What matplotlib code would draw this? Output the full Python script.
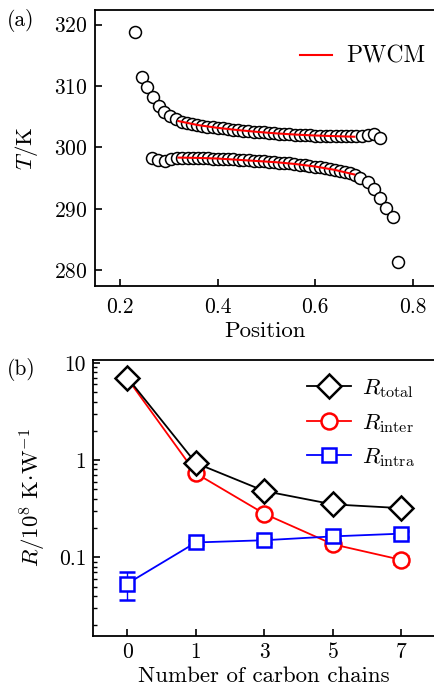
import numpy as np
import matplotlib
matplotlib.use("Agg")
import matplotlib.pyplot as plt
from matplotlib.ticker import LogLocator, NullFormatter

plt.rcParams['font.family'] = ['cmr10', 'DejaVu Serif']
plt.rcParams['mathtext.fontset'] = 'cm'
plt.rcParams['axes.unicode_minus'] = False
plt.rcParams['axes.formatter.use_mathtext'] = True

# ---- panel (a) data: temperature profile ----
hot_x = [0.231, 0.2445, 0.2567, 0.269, 0.2806, 0.2915, 0.3025,
         0.316, 0.327, 0.337, 0.348, 0.358, 0.369, 0.379, 0.390, 0.400,
         0.411, 0.421, 0.432, 0.442, 0.453, 0.463, 0.474, 0.484, 0.495,
         0.505, 0.516, 0.526, 0.537, 0.547, 0.558, 0.568, 0.579, 0.589,
         0.600, 0.610, 0.621, 0.631, 0.642, 0.652, 0.663, 0.673, 0.684,
         0.695, 0.7076, 0.7205, 0.733]
hot_T = [318.8, 311.5, 309.8, 308.2, 306.7, 305.7, 305.1,
         304.6, 304.2, 304.0, 303.8, 303.65, 303.5, 303.4, 303.3, 303.2,
         303.1, 303.0, 302.9, 302.8, 302.7, 302.65, 302.55, 302.5, 302.45,
         302.4, 302.3, 302.25, 302.2, 302.15, 302.1, 302.05, 302.0, 302.0,
         301.95, 301.9, 301.9, 301.85, 301.85, 301.8, 301.8, 301.8, 301.8,
         301.9, 302.1, 302.15, 301.6]

cold_x = [0.265, 0.279, 0.292, 0.305,
          0.318, 0.328, 0.339, 0.349, 0.360, 0.370, 0.380, 0.391, 0.401,
          0.412, 0.422, 0.432, 0.443, 0.453, 0.464, 0.474, 0.484, 0.495,
          0.505, 0.516, 0.526, 0.536, 0.547, 0.557, 0.568, 0.578, 0.588,
          0.599, 0.609, 0.620, 0.630, 0.640, 0.651, 0.661, 0.672, 0.682,
          0.692, 0.7076, 0.7205, 0.733, 0.745, 0.7588, 0.770]
cold_T = [298.3, 297.95, 297.85, 298.1,
          298.3, 298.3, 298.3, 298.3, 298.3, 298.25, 298.25, 298.2, 298.2,
          298.15, 298.1, 298.05, 298.0, 297.95, 297.9, 297.85, 297.8, 297.75,
          297.7, 297.6, 297.55, 297.45, 297.4, 297.3, 297.2, 297.1, 297.0,
          296.85, 296.75, 296.6, 296.45, 296.3, 296.15, 296.0, 295.8, 295.55,
          295.0, 294.3, 293.2, 291.85, 290.2, 288.6, 281.3]

fit_x = [0.32, 0.36, 0.40, 0.44, 0.48, 0.52, 0.56, 0.60, 0.64, 0.68]
fit_hot = [304.3, 303.65, 303.2, 302.85, 302.55, 302.3, 302.1, 301.95, 301.85, 301.75]
fit_cold = [298.35, 298.3, 298.2, 298.0, 297.8, 297.6, 297.3, 296.9, 296.35, 295.6]

# ---- panel (b) data: thermal resistance ----
chains = ['0', '1', '3', '5', '7']
r_total = [7.05, 0.93, 0.48, 0.35, 0.32]
r_total_err = [0.3, 0.05, 0.05, 0.03, 0.03]
r_inter = [6.9, 0.73, 0.28, 0.136, 0.094]
r_inter_err = [0.2, 0.03, 0.015, 0.01, 0.008]
r_intra = [0.0536, 0.142, 0.1497, 0.164, 0.175]
r_intra_err = [0.017, 0.008, 0.008, 0.011, 0.012]

fig = plt.figure(figsize=(4.35, 6.88), dpi=100)

def style_axes(ax):
    ax.spines['right'].set_visible(False)
    for s in ['left', 'top', 'bottom']:
        ax.spines[s].set_linewidth(1.3)
    ax.tick_params(which='major', direction='in', length=5, width=1.2,
                   labelsize=15.5, top=False, right=False, pad=5)
    ax.tick_params(which='minor', direction='in', length=3, width=1.0,
                   top=False, right=False)

# (a)
ax1 = fig.add_axes([0.218, 0.584, 0.782, 0.4015])
ax1.plot(hot_x, hot_T, 'o', ms=8.6, mfc='white', mec='black', mew=1.1, ls='none')
ax1.plot(cold_x, cold_T, 'o', ms=8.6, mfc='white', mec='black', mew=1.1, ls='none')
ax1.plot(fit_x, fit_hot, color='red', lw=1.5, label='PWCM')
ax1.plot(fit_x, fit_cold, color='red', lw=1.5)
ax1.set_xlim(0.149, 0.845)
ax1.set_ylim(277.4, 322.4)
ax1.set_xticks([0.2, 0.4, 0.6, 0.8])
ax1.set_xticklabels(['0.2', '0.4', '0.6', '0.8'])
ax1.set_yticks([280, 290, 300, 310, 320])
style_axes(ax1)
ax1.tick_params(axis='x', which='major', pad=8)
ax1.set_xlabel('Position', fontsize=16.5, labelpad=3)
ax1.set_ylabel('$T$/K', fontsize=16.5, labelpad=10)
ax1.legend(loc='upper right', frameon=False, fontsize=17, handlelength=1.35,
           handletextpad=0.6, bbox_to_anchor=(1.0, 0.905), borderaxespad=0.0)
fig.text(0.015, 0.962, '(a)', fontsize=15.5)

# (b)
ax2 = fig.add_axes([0.214, 0.0756, 0.786, 0.4012])
xpos = np.arange(len(chains))
series = [(r_total, r_total_err, 'black', 'D', 12.5, r'$R_{\rm total}$', 3),
          (r_inter, r_inter_err, 'red', 'o', 11.5, r'$R_{\rm inter}$', 2),
          (r_intra, r_intra_err, 'blue', 's', 10.5, r'$R_{\rm intra}$', 4)]
for vals, errs, col, mk, size, lab, z in series:
    ax2.errorbar(xpos, vals, yerr=errs, color=col, marker=mk, ms=size,
                 mfc='white', mec=col, mew=1.8, lw=1.3, capsize=6,
                 elinewidth=1.0, zorder=z)
    ax2.plot([], [], color=col, marker=mk, ms=size, mfc='white', mec=col,
             mew=1.8, lw=1.3, label=lab)
ax2.set_yscale('log')
ax2.set_xlim(-0.5, 4.49)
ax2.set_ylim(0.0155, 10.7)
ax2.set_xticks(xpos)
ax2.set_xticklabels(chains)
ax2.set_yticks([0.1, 1, 10])
ax2.set_yticklabels(['0.1', '1', '10'])
ax2.yaxis.set_minor_locator(LogLocator(base=10, subs=np.arange(2, 10)))
ax2.yaxis.set_minor_formatter(NullFormatter())
style_axes(ax2)
ax2.set_xlabel('Number of carbon chains', fontsize=16.5, labelpad=3)
ax2.set_ylabel(r'$R/10^{8}\ \mathrm{K{\cdot}W^{-1}}$', fontsize=16.5, labelpad=8)
ax2.legend(loc='upper left', frameon=False, fontsize=16.5, handlelength=1.9,
           handletextpad=0.5, labelspacing=0.5,
           bbox_to_anchor=(0.6, 0.97), borderaxespad=0.0)
fig.text(0.015, 0.455, '(b)', fontsize=15.5)

fig.savefig('out.png', dpi=100)
